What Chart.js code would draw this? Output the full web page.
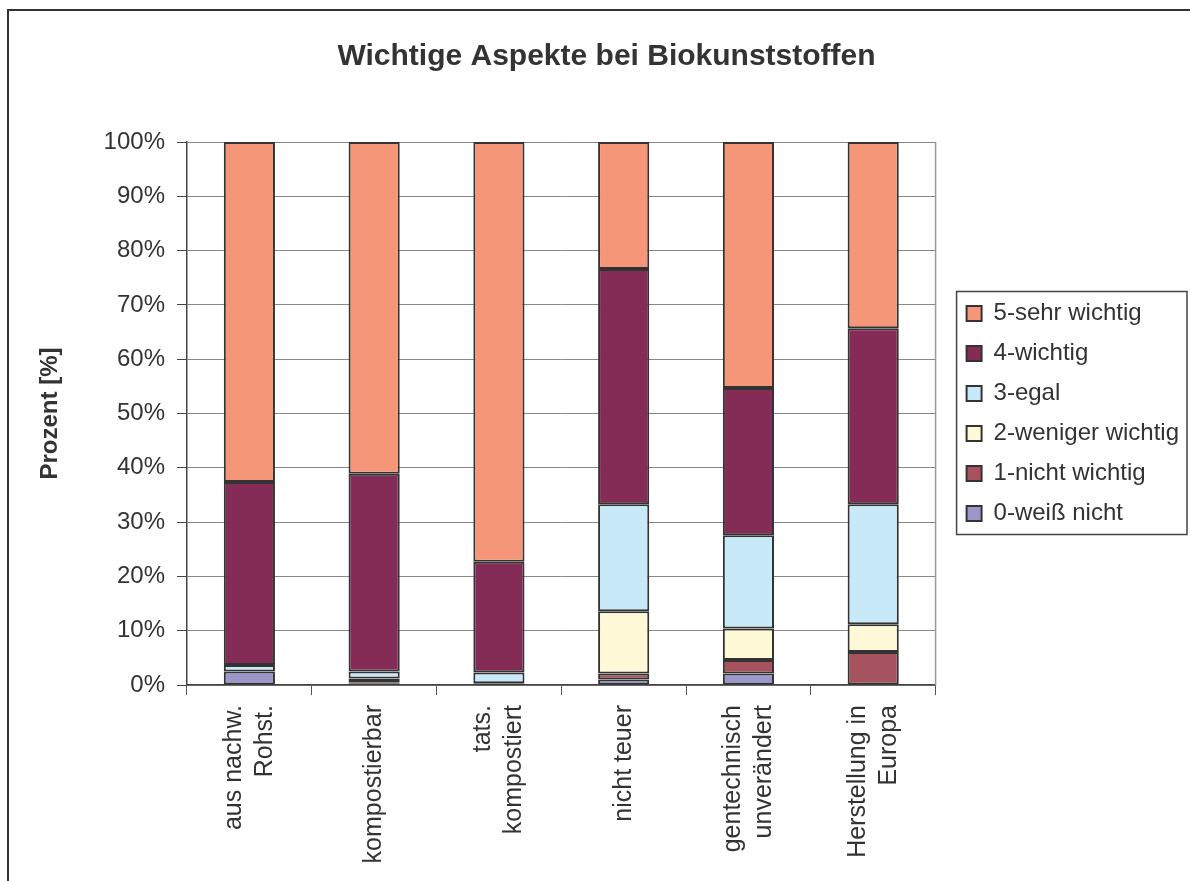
<!DOCTYPE html>
<html>
<head>
<meta charset="utf-8">
<script src="https://cdn.jsdelivr.net/npm/chart.js@4/dist/chart.umd.min.js"></script>
<style>
  html, body { margin: 0; padding: 0; background: #fff; }
  canvas { display: block; }
</style>
</head>
<body>
<canvas id="chart" width="1190" height="881"></canvas>
<script>
const categories = [
  ['aus nachw.', 'Rohst.'],
  ['kompostierbar'],
  ['tats.', 'kompostiert'],
  ['nicht teuer'],
  ['gentechnisch', 'unverändert'],
  ['Herstellung in', 'Europa'],
]

// stacked bottom-up, values in percent
const weissNicht     = [2.5, 0.3, 0.3, 1.0, 2.1, 0]
const nichtWichtig   = [0, 0.2, 0, 1.1, 2.5, 6.1]
const wenigerWichtig = [0, 0.7, 0, 11.5, 5.8, 5.1]
const egal           = [1.2, 1.3, 2.0, 19.7, 17.2, 22.1]
const wichtig        = [33.7, 36.4, 20.4, 43.3, 27.1, 32.4]
const sehrWichtig    = [62.6, 61.1, 77.3, 23.4, 45.3, 34.3]

const seriesNames = ['0-weiß nicht', '1-nicht wichtig', '2-weniger wichtig', '3-egal', '4-wichtig', '5-sehr wichtig']
const seriesData = [weissNicht, nichtWichtig, wenigerWichtig, egal, wichtig, sehrWichtig]
const seriesColors = ['#9c97c9', '#a6525f', '#fff9d7', '#c7e9f8', '#842c55', '#f59678']

const FONT = "'Liberation Sans', Arial, sans-serif"
const TEXT = '#333'
const LEGEND_GAP = 15

const frame = {
  id: 'frame',
  beforeLayout(chart) {
    // leave a small gap between plot area and legend box
    const lg = chart.legend
    if (lg && !lg._gapPatched) {
      const fit = lg.fit.bind(lg)
      lg.fit = function () { fit(); this.width += LEGEND_GAP }
      lg._gapPatched = true
    }
  },
  afterLayout(chart) {
    if (chart.legend) chart.legend.left += LEGEND_GAP
  },
  beforeDraw(chart) {
    const ctx = chart.ctx
    ctx.save()
    ctx.strokeStyle = '#333'
    ctx.lineWidth = 2
    ctx.beginPath()
    ctx.moveTo(8, chart.height)
    ctx.lineTo(8, 10)
    ctx.lineTo(chart.width, 10)
    ctx.stroke()
    ctx.restore()
  },
  beforeDatasetsDraw(chart) {
    const {ctx, chartArea} = chart
    ctx.save()
    ctx.strokeStyle = '#999'
    ctx.lineWidth = 1.5
    ctx.beginPath()
    ctx.moveTo(chartArea.right, chartArea.top)
    ctx.lineTo(chartArea.right, chartArea.bottom)
    ctx.stroke()
    ctx.restore()
  },
  afterDraw(chart) {
    const ctx = chart.ctx
    // category labels, rotated, lines centred on the tick
    const xs = chart.scales.x
    const lh = 31
    ctx.save()
    ctx.fillStyle = TEXT
    ctx.font = '25px ' + FONT
    ctx.textAlign = 'right'
    ctx.textBaseline = 'middle'
    categories.forEach((lines, i) => {
      const cx = xs.getPixelForValue(i)
      lines.forEach((t, j) => {
        const x = cx + (j - (lines.length - 1) / 2) * lh
        ctx.save()
        ctx.translate(x, chart.chartArea.bottom + 20)
        ctx.rotate(-Math.PI / 2)
        ctx.fillText(t, 0, 0)
        ctx.restore()
      })
    })
    ctx.restore()

    // legend frame
    const lg = chart.legend
    const boxes = lg.legendHitBoxes
    if (!boxes || !boxes.length) return
    const top = Math.min(...boxes.map(b => b.top)) - 10
    const bottom = Math.max(...boxes.map(b => b.top + b.height)) + 9
    ctx.save()
    ctx.strokeStyle = '#444'
    ctx.lineWidth = 1.5
    ctx.strokeRect(lg.left + 6, top, lg.right - lg.left - 8, bottom - top)
    ctx.restore()
  },
}

new Chart(document.getElementById('chart'), {
  type: 'bar',
  data: {
    labels: categories.map(c => c.join(' ')),
    datasets: seriesData.map((d, i) => ({
      label: seriesNames[i],
      data: d,
      backgroundColor: seriesColors[i],
      borderColor: '#333',
      borderWidth: 2,
      borderSkipped: false,
      barPercentage: 0.41,
      categoryPercentage: 1,
    })),
  },
  options: {
    responsive: false,
    animation: false,
    layout: { padding: { left: 24, right: 1, top: 0, bottom: 0 } },
    plugins: {
      title: {
        display: true,
        text: 'Wichtige Aspekte bei Biokunststoffen',
        color: TEXT,
        font: { family: FONT, size: 30, weight: 'bold' },
        padding: { top: 39, bottom: 67 },
      },
      legend: {
        position: 'right',
        fullSize: false,
        reverse: true,
        labels: {
          color: TEXT,
          font: { family: FONT, size: 24 },
          boxWidth: 15,
          boxHeight: 15,
          padding: 16,
        },
      },
      tooltip: { enabled: false },
    },
    scales: {
      x: {
        stacked: true,
        grid: { display: true, drawOnChartArea: false, drawTicks: true, tickLength: 10, tickColor: '#555', offset: true },
        border: { color: '#444', width: 1.5 },
        ticks: { display: false },
        afterFit: s => { s.height = 196 },
      },
      y: {
        stacked: true,
        min: 0,
        max: 100,
        grid: { color: '#888', lineWidth: 1, tickLength: 10, tickColor: '#444' },
        border: { color: '#444', width: 1.5 },
        ticks: { stepSize: 10, color: TEXT, font: { family: FONT, size: 24 }, padding: 12, callback: v => v + '%' },
        title: {
          display: true,
          text: 'Prozent [%]',
          color: TEXT,
          font: { family: FONT, size: 24, weight: 'bold' },
          padding: { top: 12, bottom: 0 },
        },
        afterFit: s => { s.width = 163 },
      },
    },
  },
  plugins: [frame],
})
</script>
</body>
</html>
